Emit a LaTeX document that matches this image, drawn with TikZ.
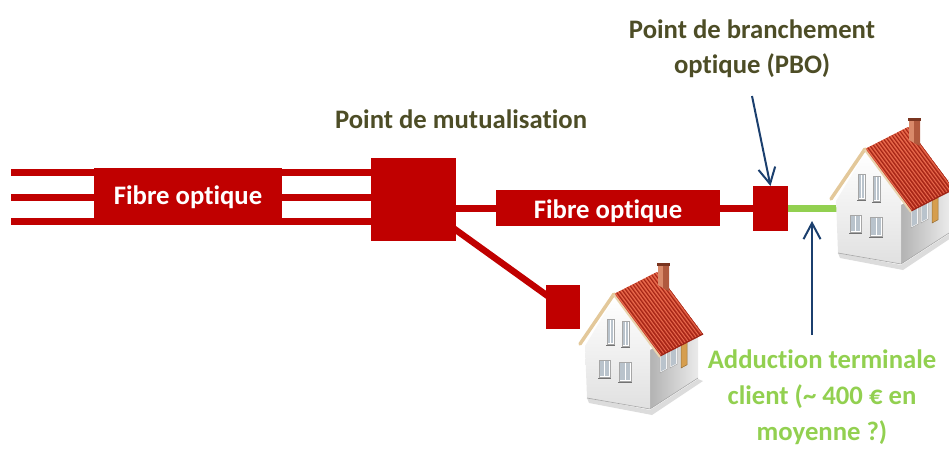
\documentclass[tikz,border=0pt]{standalone}
\usepackage{fontspec}
\setmainfont{Carlito}[Ligatures=NoCommon]
\usetikzlibrary{arrows.meta,backgrounds}
\definecolor{fibred}{HTML}{C00000}
\definecolor{lbltext}{HTML}{4D4D26}
\definecolor{adgreen}{HTML}{92D050}
\definecolor{arrowblue}{HTML}{1B3F6E}
\definecolor{roofhi}{HTML}{E2583A}
\definecolor{rooflo}{HTML}{B82A1C}
\definecolor{roofdark}{HTML}{9E2416}
\definecolor{rooflight}{HTML}{EC7A5C}
\definecolor{barge}{HTML}{E3C89A}
\definecolor{glass}{HTML}{B9C3CC}
\definecolor{doorcol}{HTML}{D69E4E}
\definecolor{chimlight}{HTML}{D98A6A}
\definecolor{chimshade}{HTML}{B05A3E}
\definecolor{chimcap}{HTML}{7A3520}

\tikzset{
  % small detached house: origin = apex of the front gable
  house/.pic={
    % ground shadow
    \fill[black!30, opacity=0.45] (-27,104) -- (36,116) -- (84,85) -- (89,87) -- (38,121) -- (-25,109) -- cycle;
    % side wall
    \shade[left color=black!30, right color=black!8] (36,56) -- (84,30) -- (84,84) -- (36,115) -- cycle;
    % front gable wall
    \shade[top color=white, bottom color=black!12] (0,4) -- (-29,52) -- (-27,104) -- (36,115) -- (36,50) -- cycle;
    \draw[black!35, line width=0.6pt] (-27,104) -- (36,115) -- (84,84);
    % front windows
    \foreach \x/\y/\w/\h in {-7/25/7/25, 8/27/7/25, -15/66/11/17, 5/68/12/19}{
      \filldraw[fill=white, draw=black!35, line width=0.5pt] (\x,\y) rectangle ++(\w,\h);
      \fill[glass] ({\x+1.2},{\y+1.2}) rectangle ({\x+\w/2-0.5},{\y+\h-1.2});
      \fill[glass] ({\x+\w/2+0.5},{\y+1.2}) rectangle ({\x+\w-1.2},{\y+\h-1.2});
      \draw[black!55, line width=1pt] ({\x-1},{\y+\h+1}) -- ++({\w+2},0);
    }
    % side windows
    \foreach \x/\y in {46/61, 56/56}{
      \filldraw[fill=white, draw=black!35, line width=0.5pt]
        (\x,\y) -- ++(7,-3.8) -- ++(0,18) -- ++(-7,3.8) -- cycle;
      \fill[glass] ({\x+1.2},{\y+0.8}) -- ++(4.6,-2.5) -- ++(0,15.5) -- ++(-4.6,2.5) -- cycle;
    }
    % door
    \filldraw[fill=doorcol, draw=doorcol!70!black, line width=0.5pt]
      (67,48) -- ++(6,-3.2) -- ++(0,26) -- ++(-6,3.2) -- cycle;
    % roof
    \begin{scope}
      \clip (0,0) -- (43,-22) -- (89,40) -- (46,62) -- cycle;
      \shade[top color=roofhi, bottom color=rooflo] (-5,-30) rectangle (95,70);
      \foreach \t in {1,...,16}{
        \draw[roofdark, line width=0.8pt] ({\t*43/16},{-\t*22/16}) -- ++(46,62);
        \draw[rooflight, line width=0.5pt] ({\t*43/16-1.2},{-\t*22/16+0.6}) -- ++(46,62);
      }
    \end{scope}
    \draw[roofdark, line width=1.2pt] (46,62) -- (89,40);
    \draw[barge, line width=3.5pt, line cap=round] (-34,50) -- (0,0);
    \draw[barge!80!white, line width=2pt] (0,1) -- (46,63);
    % chimney
    \fill[chimlight] (44,-29) -- (49,-29) -- (49,-6) -- (44,-9) -- cycle;
    \fill[chimshade] (49,-29) -- (55,-29) -- (55,-3) -- (49,-6) -- cycle;
    \fill[chimcap] (43,-31) rectangle (56,-28);
  }
}

\begin{document}
\begin{tikzpicture}[x=1pt, y=-1pt,
  fiber/.style={draw=fibred, line width=6.5pt},
  redbox/.style={fill=fibred, draw=none, inner sep=0pt, outer sep=0pt},
  lbl/.style={font=\fontsize{26.7}{36}\selectfont\bfseries},
  pointer/.style={draw=arrowblue, line width=2pt,
    -{Straight Barb[length=16pt, width=17pt, line width=2pt]}},
]
\useasboundingbox (0,0) rectangle (949,448);

% distribution boxes
\node[redbox, minimum width=188pt, minimum height=50pt, lbl, text=white,
      text height=30pt, text depth=7pt] (fibL) at (188,193) {Fibre optique};
\node[redbox, minimum width=85pt, minimum height=83pt] (pm) at (413.5,199.5) {};
\node[redbox, minimum width=224pt, minimum height=36pt, lbl, text=white,
      text height=26pt, text depth=6pt] (fibR) at (608,208) {Fibre optique};
\node[redbox, minimum width=35pt, minimum height=45pt] (pbo) at (770.5,208.5) {};
\node[redbox, minimum width=34pt, minimum height=44pt] (pmb) at (563,307) {};

% loose ends of the cables and pointers
\coordinate (in1) at (11,172.5);
\coordinate (in2) at (11,197.5);
\coordinate (in3) at (11,221.5);
\coordinate (drop) at (842,208.5);
\coordinate (pboTail) at (752,96);
\coordinate (adTail) at (812,335);
\coordinate (adTip) at (812,221);

% cables behind the boxes
\begin{scope}[on background layer]
  \draw[fiber] (in1) -- (in1 -| pm.center);
  \draw[fiber] (in2) -- (in2 -| pm.center);
  \draw[fiber] (in3) -- (in3 -| pm.center);
  \draw[fiber] (pm.center |- pbo) -- (pbo.center);
  \draw[fiber] (pm.center) -- (pmb.center);
  \draw[draw=adgreen, line width=6.5pt] (pbo.center) -- (drop);
\end{scope}

% houses
\pic (h1) at (614,294) {house};
\pic (h2) at (865,149) {house};

% labels (anchor=base sits on the last line of a multi-line label)
\node[lbl, text=lbltext, anchor=base] (mutLabel) at (461,128) {Point de mutualisation};
\node[font=\fontsize{26.7}{35}\selectfont\bfseries, text=lbltext, anchor=base, align=center]
  (pboLabel) at (752,73) {Point de branchement\\optique (PBO)};
\node[lbl, text=adgreen, anchor=base, align=center] (adLabel) at (822,440)
  {Adduction terminale\\client (\textasciitilde{} 400 € en\\moyenne ?)};

% pointers
\draw[pointer] (pboTail) -- (pbo.north);
\draw[pointer] (adTail) -- (adTip);
\end{tikzpicture}
\end{document}
